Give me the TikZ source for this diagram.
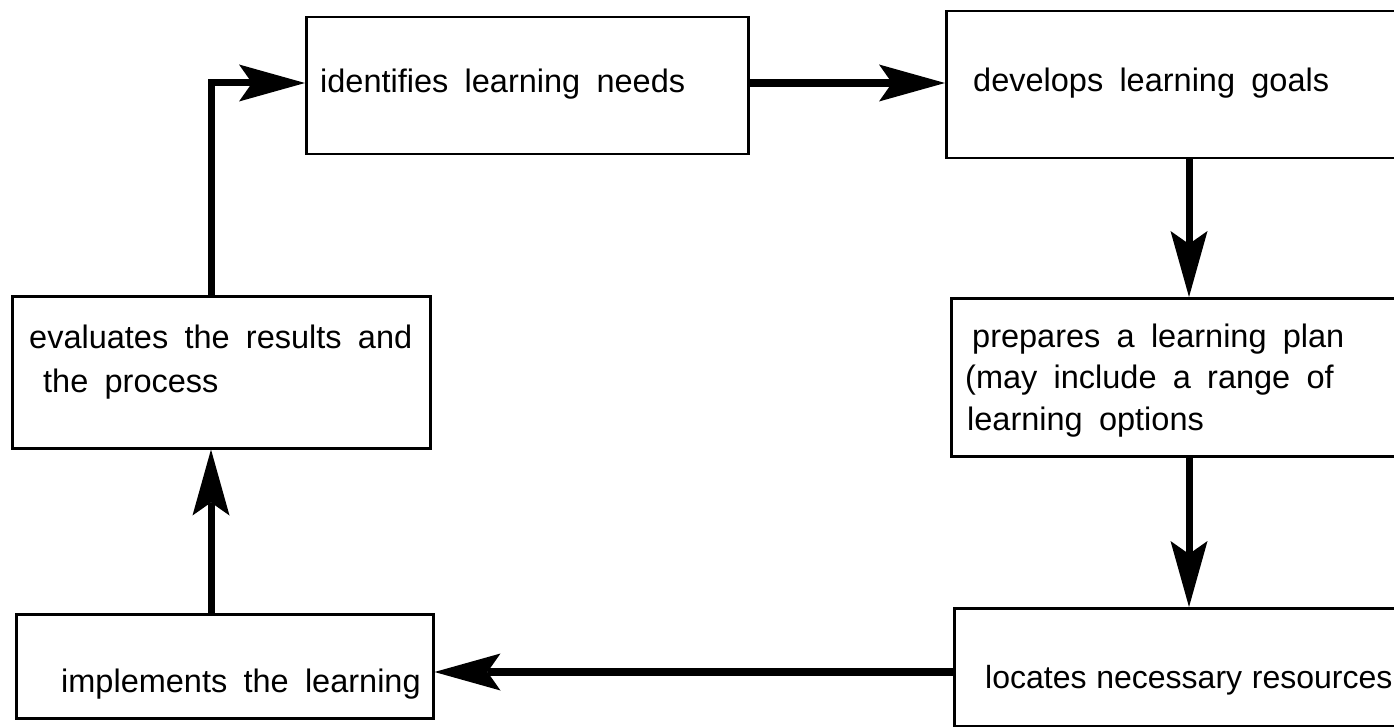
\documentclass[tikz,border=0pt]{standalone}
\usepackage{fontspec}
\setmainfont{Liberation Sans}[WordSpace={1.8,0.4,0.2}]
\newfontfamily\tightfont{Liberation Sans}[WordSpace={1.1,0.4,0.2}]
\usetikzlibrary{arrows.meta}
\begin{document}
\begin{tikzpicture}[x=1pt,y=-1pt,
  box/.style={draw, line width=2.5pt, inner sep=0pt, anchor=north west},
  txt/.style={anchor=base west, inner sep=0pt, font=\fontsize{32.5}{38}\selectfont},
  tighttxt/.style={txt, font=\tightfont\fontsize{32}{38}\selectfont},
  conn/.style={line width=7pt, line join=miter, -{Stealth[length=66pt,width=37pt,inset=13pt,line width=0pt]}}]
\useasboundingbox (0,0) rectangle (1394,727);
\clip (0,0) rectangle (1394,727);
\fill[white] (0,0) rectangle (1394,727);
% boxes
\node[box, minimum width=442pt, minimum height=137pt] (A) at (305,16) {};
\node[box, minimum width=460pt, minimum height=147pt] (B) at (945,10) {};
\node[box, minimum width=455pt, minimum height=158pt] (C) at (950,297) {};
\node[box, minimum width=452pt, minimum height=118pt] (D) at (953,607) {};
\node[box, minimum width=418pt, minimum height=152pt] (E) at (11,295) {};
\node[box, minimum width=417pt, minimum height=104pt] (F) at (15,613) {};
% texts
\node[txt] (At) at (320,93) {identifies learning needs};
\node[txt] (Bt) at (973,92) {develops learning goals};
\node[txt] (Ct1) at (972,347) {prepares a learning plan};
\node[txt] (Ct2) at (965,388) {(may include a range of};
\node[txt] (Ct3) at (967,430) {learning options};
\node[tighttxt] (Dt) at (985,688) {locates necessary resources};
\node[txt] (Et1) at (29,348) {evaluates the results and};
\node[txt] (Et2) at (43,392) {the process};
\node[txt] (Ft) at (61,692) {implements the learning};
% connectors
\coordinate (lx) at (211,0);
\coordinate (ty) at (0,83);
\coordinate (hy) at (0,672);
\coordinate (vx) at (1189,0);
\draw[conn] (E.north -| lx) |- (A.west |- ty);
\draw[conn] (F.north -| lx) -- (E.south -| lx);
\draw[conn, line width=8pt] (D.west |- hy) -- (F.east |- hy);
\draw[conn, line width=8pt] (A.east |- ty) -- (B.west |- ty);
\draw[conn] (B.south -| vx) -- (C.north -| vx);
\draw[conn] (C.south -| vx) -- (D.north -| vx);
\end{tikzpicture}
\end{document}
